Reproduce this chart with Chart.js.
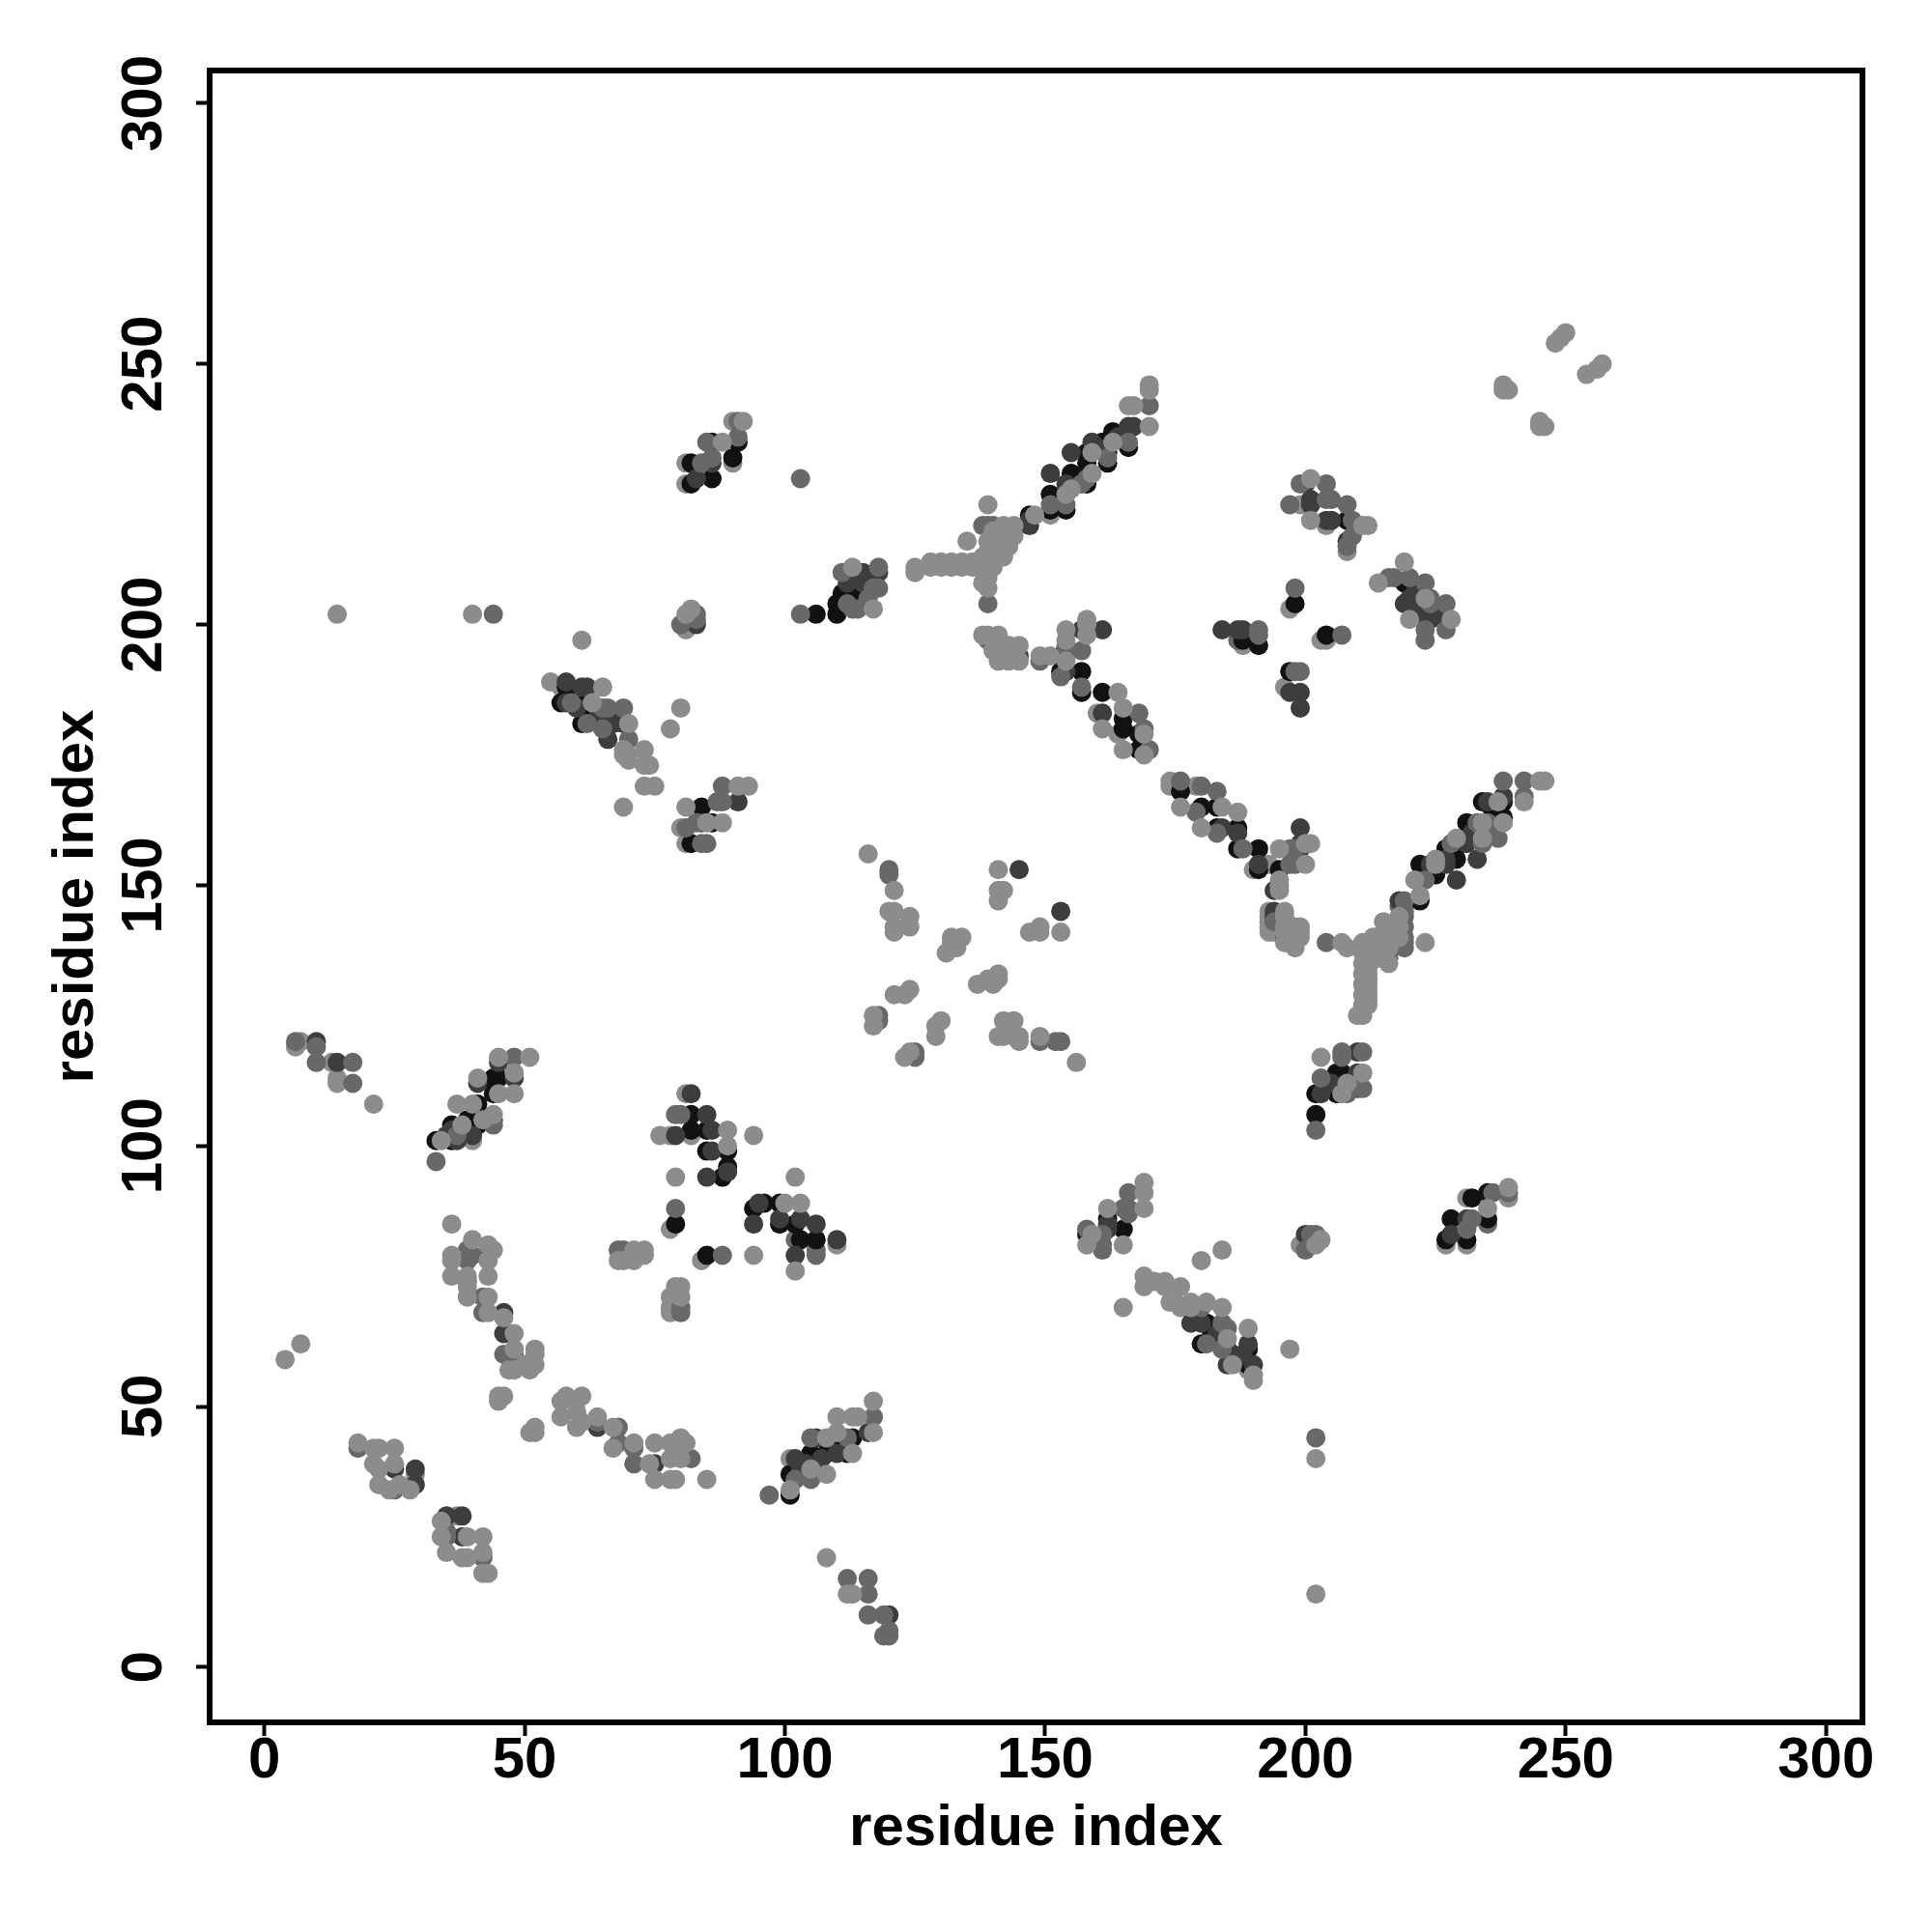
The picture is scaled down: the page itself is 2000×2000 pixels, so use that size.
<!DOCTYPE html>
<html lang="en">
<head>
<meta charset="UTF-8">
<title>Contact map</title>
<script src="https://cdn.jsdelivr.net/npm/chart.js"></script>
<style>
    body { margin: 0; background: #fff; }
    canvas { display: block; }
</style>
</head>
<body>
<canvas id="contactMap" width="2000" height="2000"></canvas>
<script>
// contacts as [residue, residue], one list per grey level
const lowLight = [
    [29,37],[37,29],[78,71],[78,68],[78,69],[6,119],[7,120],[13,116],[14,113],[14,112],[40,101],
    [81,110],[76,102],[78,102],[82,102],[78,84],[84,78],[110,81],[101,40],[189,57],[199,81],
    [227,81],[231,81],[231,90],[239,90],[190,153],[193,154],[174,169],[174,170],[179,169],
    [193,145],[193,144],[193,143],[193,142],[193,141],[194,141],[151,221],[55,189],[57,188],
    [80,161],[81,158],[81,227],[81,231],[90,231],[90,239],[81,199],[160,183],[164,179],
    [188,196],[197,203],[203,197],[196,188],[204,197],[199,223],[204,219],[208,214],[120,145],
    [212,127],[212,129],[212,131],[212,133],[212,135],[212,137]
];
const lowMid = [
    [102,82],[106,79],[106,80],[235,85],[187,197],[218,146],[219,146],[41,105]
];
const blackPoints = [
    [33,101],[36,101],[36,104],[40,104],[41,108],[44,113],[45,113],[44,110],[36,102],[39,105],[40,105],[41,104],[44,112],
    [82,106],[82,103],[85,103],[85,99],[89,99],[89,96],[88,94],[79,85],[85,79],
    [94,88],[96,89],[99,89],[99,85],[102,85],[103,82],[106,82],
    [101,33],[101,37],[105,37],[105,41],[108,41],[110,43],[113,44],[112,41],[106,40],
    [162,86],[165,84],[158,83],[181,66],[180,62],[185,61],[189,61],[189,58],[182,64],
    [227,82],[228,86],[231,82],[232,90],[235,86],[235,91],
    [202,106],[202,110],[206,114],[207,114],[206,110],[222,147],
    [176,168],[180,165],[183,165],[183,161],[187,161],[187,157],[191,157],[191,153],[195,153],
    [234,166],[238,166],[238,163],[231,162],[233,159],[227,157],[229,155],[222,154],[225,152],[222,151],[230,158],[236,164],
    [147,221],[151,225],[151,222],[155,229],[154,222],[158,233],[158,231],[158,227],[163,237],
    [162,231],[162,233],[163,236],[166,234],[156,228],[161,235],
    [153,194],[153,191],[157,191],[157,187],[161,187],[165,182],[165,180],[168,179],[168,176],
    [188,197],[191,196],[197,191],[198,204],[204,198],[208,220],[219,208],[227,201],
    [58,188],[57,185],[61,185],[61,181],[66,181],[60,186],[62,183],[66,183],[84,165],[86,162],[82,158],
    [82,227],[86,228],[82,231],[90,232],[86,235],[91,235],
    [111,206],[110,204],[114,206],[110,202],[106,202]
];
const darkPoints = [
    [46,68],[46,64],[43,80],[64,46],[80,42],[75,39],[25,38],[29,38],[29,35],[35,29],[38,29],[38,25],
    [10,120],[14,116],[37,101],[40,102],[41,112],[44,105],[45,116],[48,113],[35,102],[36,103],
    [82,110],[85,106],[79,102],[86,103],[86,99],[85,94],[89,95],
    [94,85],[99,86],[103,86],[106,85],[102,79],[110,82],[95,89],
    [102,40],[106,44],[116,45],[120,10],[104,39],[107,40],[110,41],[103,38],
    [162,84],[162,85],[178,66],[180,66],[189,62],[185,58],[190,58],[183,64],[184,63],[186,60],[188,60],
    [200,83],[201,81],[228,83],[231,86],[203,110],[210,118],[210,114],[210,111],[218,147],[208,112],[205,112],
    [184,161],[187,160],[199,161],[199,158],[199,157],[191,154],[194,149],[194,145],[194,144],
    [235,166],[238,167],[231,159],[231,158],[233,155],[227,154],[224,154],[229,151],[227,155],[232,160],[236,160],
    [151,229],[155,233],[154,227],[159,235],[166,238],[167,238],[147,219],[147,220],[160,234],[164,236],
    [145,194],[154,194],[157,199],[161,199],[154,191],[161,183],
    [184,199],[187,199],[188,199],[199,187],[197,187],[199,184],
    [200,227],[201,224],[201,223],[204,220],[205,220],[208,216],[220,205],[219,204],[223,201],[224,201],[222,203],[225,202],[221,206],
    [58,189],[58,185],[61,188],[62,188],[66,178],[69,181],[60,184],[64,182],[67,181],[91,166],[84,162],[83,228],[86,231],
    [83,200],[81,201],[115,210],[118,210],[112,208],[115,208],[145,153],[153,145]
];
const midPoints = [
    [39,80],[40,79],[39,78],[42,71],[42,68],[46,60],[48,60],[39,74],
    [64,47],[68,46],[68,43],[71,42],[71,39],[82,40],[80,41],[18,42],[25,34],[35,26],[35,25],[42,21],
    [68,80],[69,80],[80,68],[80,69],[6,120],[10,119],[10,116],[17,112],[17,116],
    [33,97],[44,104],[37,102],[48,117],[79,106],[80,106],[79,88],[88,79],
    [97,33],[102,36],[105,36],[105,44],[117,48],[112,44],[112,17],[116,17],[116,14],[116,10],
    [119,10],[119,6],[120,7],[120,6],
    [166,91],[166,88],[165,88],[166,87],[158,84],[161,83],[161,81],[161,80],
    [180,69],[184,66],[185,65],[184,61],[181,62],[201,83],[202,83],[200,80],
    [231,84],[232,86],[236,91],[239,91],[202,103],[203,113],[207,118],[211,118],[207,117],[211,111],[208,110],
    [204,139],[219,147],[219,145],[219,144],[219,142],[219,140],[219,139],[219,138],[218,141],[215,140],[215,138],[216,136],
    [176,170],[180,169],[183,168],[179,164],[183,160],[188,157],[197,154],[198,154],[198,157],[197,157],
    [194,143],[196,143],[196,140],[198,139],
    [238,170],[242,170],[242,167],[235,162],[233,162],[234,161],[234,158],[223,151],[228,158],[237,159],
    [170,242],[151,223],[154,223],[158,228],[162,232],[166,235],[157,227],
    [139,204],[138,219],[139,219],[140,219],[140,215],[139,214],
    [149,193],[154,196],[157,195],[153,190],[157,188],[139,197],[168,183],[169,180],[170,176],
    [191,199],[191,198],[198,207],[207,198],[199,191],[198,191],
    [199,227],[204,227],[197,223],[205,224],[204,224],[208,223],[209,220],[209,217],[208,215],
    [216,209],[217,209],[220,209],[223,208],[224,205],[224,204],[227,204],[227,199],[223,199],[223,197],
    [65,184],[66,184],[69,184],[62,181],[70,178],[59,185],[65,180],
    [88,169],[88,166],[87,166],[83,162],[84,158],[85,158],[81,161],
    [84,231],[86,232],[85,235],[91,236],[91,239],[83,201],[83,202],[80,200],
    [103,228],[111,210],[118,211],[118,207],[117,207],[114,203],[113,203],[103,202],[116,205],[112,204],
    [120,153],[120,152],[44,202],[202,44],[125,118],[125,117],[118,125],[118,124],[152,120],[153,120],[149,120]
];
const lightPoints = [
    [36,85],[40,82],[43,81],[44,80],[36,79],[36,78],[36,75],[39,75],[39,73],[43,75],[39,71],[43,71],[43,68],
    [46,67],[48,64],[48,61],[52,61],[52,60],[52,58],[50,58],[47,57],[48,57],[51,57],[45,52],[46,52],[45,51],
    [52,46],[51,45],[52,45],[43,78],
    [57,51],[58,52],[61,52],[60,51],[57,48],[60,46],[60,49],[61,47],[64,48],[67,46],[67,42],[71,43],[75,43],
    [78,43],[80,44],[81,43],[74,39],[78,40],[80,40],[75,36],[78,36],[79,36],[85,36],
    [18,43],[21,42],[22,42],[25,42],[21,39],[22,38],[25,39],[22,35],[24,34],[26,35],[28,34],
    [34,28],[34,25],[39,25],[42,25],[35,22],[38,21],[39,21],[42,22],[42,18],[43,18],[4,59],[7,62],
    [68,78],[71,78],[71,80],[73,80],[73,79],[69,78],[79,73],[80,73],[80,71],[21,108],
    [34,101],[37,108],[38,104],[40,108],[44,106],[45,117],[48,114],[48,110],[51,117],[42,105],[45,110],[41,113],
    [89,103],[94,102],[89,100],[79,94],[102,94],[94,79],[100,89],[103,89],[102,76],
    [101,34],[105,38],[108,37],[108,44],[110,48],[110,45],[113,48],[114,48],[117,51],[117,45],[113,41],
    [108,21],[112,14],[113,14],
    [169,93],[169,91],[169,88],[162,88],[159,83],[158,81],[165,81],[165,69],
    [184,80],[180,78],[169,75],[169,73],[171,74],[173,74],[173,73],[176,73],[174,70],[175,70],[176,69],
    [178,70],[178,69],[181,70],[184,69],[189,65],[185,63],[186,58],[190,55],[190,56],[197,61],
    [203,82],[202,81],[235,88],[239,92],[203,117],[211,114],[207,110],[208,112],
    [207,139],[208,138],[210,125],[211,125],[211,126],[211,127],[212,128],[211,129],[212,130],[211,131],
    [212,132],[211,133],[212,134],[211,135],[212,136],[211,137],[212,138],[211,139],[212,139],[213,140],
    [214,138],[215,143],[215,141],[216,139],[216,138],[216,135],[217,141],[223,139],[213,136],[214,136],
    [218,144],[218,142],[218,140],[222,148],
    [184,165],[187,164],[180,161],[176,165],[195,157],[201,158],[200,158],[200,154],[195,149],[195,151],[195,150],
    [196,145],[196,144],[196,142],[196,141],[196,139],[197,141],[198,142],[198,141],[198,140],[198,138],
    [199,142],[199,141],[199,140],
    [245,170],[246,170],[242,166],[237,166],[238,162],[234,162],[234,159],[229,159],[225,155],[225,154],[221,151],
    [139,223],[148,221],[154,225],[155,226],[159,233],[159,229],[163,235],[170,238],[166,242],[167,242],[170,246],[170,245],
    [125,211],[125,210],[128,212],[128,211],[130,212],[130,211],[132,212],[132,211],[134,212],[134,211],
    [136,212],[136,211],[137,212],[137,211],[135,216],[140,218],[141,218],[142,219],[144,219],[144,217],
    [139,216],[141,216],[143,215],[138,213],[140,213],[139,211],[140,211],[138,208],[139,207],[139,209],
    [141,214],[142,213],
    [138,198],[139,198],[141,198],[141,197],[143,196],[145,196],[145,193],[141,193],[143,193],[140,195],[142,194],
    [149,194],[151,194],[154,199],[154,193],[158,201],[158,200],[164,187],[158,198],[154,197],
    [165,184],[161,180],[169,179],[165,176],[169,175],
    [201,228],[201,220],[212,219],[211,219],[214,208],[219,212],[220,201],[223,205],[228,201],
    [61,197],[65,188],[63,185],[70,181],[69,176],[70,175],[69,175],[70,174],[73,176],[74,173],[73,173],
    [73,169],[75,169],[69,165],[80,184],[78,180],
    [91,169],[93,169],[81,165],[88,162],[85,162],[88,235],[92,239],[82,203],[81,202],
    [113,211],[117,203],[14,202],[40,202],[202,14],[202,40],
    [249,255],[250,256],[248,254],[257,250],[256,249],[254,248],[238,246],[238,245],[239,245],[245,239],[245,238],[246,238],
    [116,156],[121,149],[121,145],[121,141],[124,144],[124,142],[121,142],[141,149],[142,149],[141,147],
    [147,141],[149,142],[149,141],[153,141],[141,153],
    [132,140],[134,140],[131,137],[132,139],[133,138],[141,133],[141,132],[137,131],[139,132],[140,131],
    [121,129],[123,129],[124,130],[117,125],[117,123],[130,124],[129,123],[129,121],[123,117],[124,118],
    [142,124],[144,124],[141,121],[142,121],[144,121],[145,121],[145,120],[149,121],[156,116]
];

const tickValues = [0, 50, 100, 150, 200, 250, 300];
const axisLabel = 'residue index';

const greyLevels = [
    { points: lowLight, color: '#8c8c8c' },
    { points: lowMid, color: '#686868' },
    { points: blackPoints, color: '#111111' },
    { points: darkPoints, color: '#3d3d3d' },
    { points: midPoints, color: '#686868' },
    { points: lightPoints, color: '#8c8c8c' }
];

const labelFont = { family: 'Liberation Sans', size: 60, weight: 'bold', lineHeight: 1 };

// frame round the plot, R style box
const frameBox = {
    id: 'frameBox',
    afterDraw(chart) {
        const { ctx, chartArea: a } = chart;
        ctx.save();
        ctx.lineWidth = 6;
        ctx.strokeStyle = '#000';
        ctx.strokeRect(a.left, a.top, a.right - a.left, a.bottom - a.top);
        ctx.restore();
    }
};

function axisOptions(min, max, title, extra) {
    return Object.assign({
        type: 'linear',
        min: min,
        max: max,
        afterBuildTicks: (scale) => { scale.ticks = tickValues.map((v) => ({ value: v })); },
        border: { display: false },
        grid: { drawOnChartArea: false, tickLength: 14, tickWidth: 4, tickColor: '#000' },
        title: {
            display: true,
            text: title,
            color: '#000',
            font: labelFont,
            padding: { top: 49, bottom: 77 }
        }
    }, extra);
}

new Chart(document.getElementById('contactMap'), {
    type: 'scatter',
    data: {
        // first dataset ends up on top, so the list is reversed
        datasets: greyLevels.slice().reverse().map((g) => ({
            data: g.points.map((p) => ({ x: p[0], y: p[1] })),
            backgroundColor: g.color,
            borderWidth: 0,
            pointRadius: 10,
            pointHoverRadius: 10
        }))
    },
    plugins: [frameBox],
    options: {
        responsive: false,
        animation: false,
        layout: { padding: { top: 73, right: 72, left: 0, bottom: 0 } },
        plugins: { legend: { display: false }, tooltip: { enabled: false } },
        scales: {
            x: axisOptions(-10.5, 307, axisLabel, {
                afterFit: (scale) => { scale.height = 217; },
                ticks: { autoSkip: false, color: '#000', font: labelFont, padding: -4, maxRotation: 0 }
            }),
            y: axisOptions(-10.6, 306.3, axisLabel, {
                afterFit: (scale) => { scale.width = 217; },
                ticks: { autoSkip: false, color: '#000', font: labelFont, padding: 2, minRotation: 90, maxRotation: 90, crossAlign: 'center' }
            })
        }
    }
});
</script>
</body>
</html>
